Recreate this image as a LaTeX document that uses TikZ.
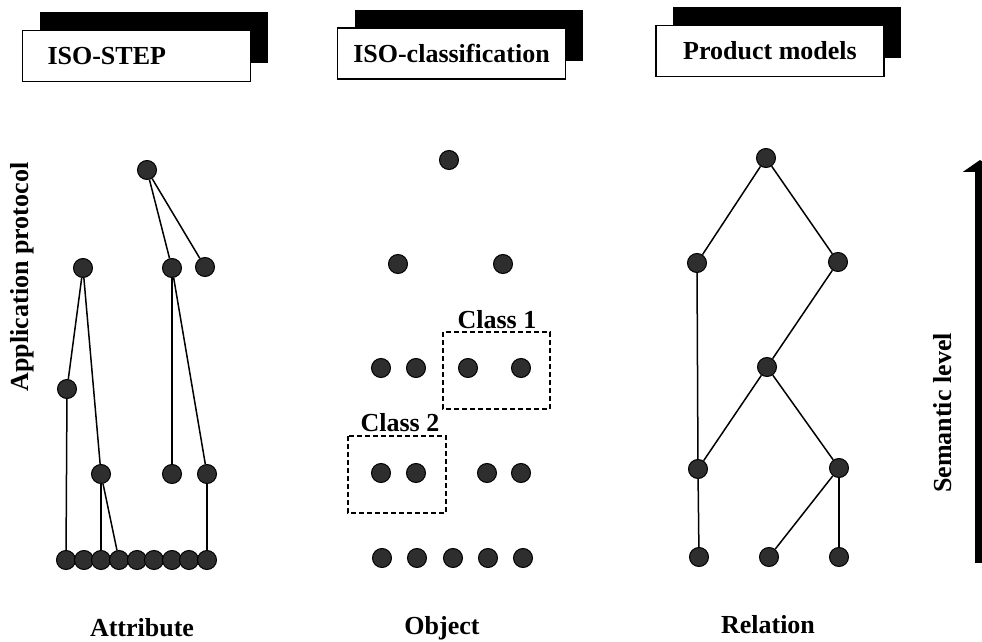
\documentclass[tikz,border=0pt]{standalone}
\usepackage{fontspec}
\setmainfont{Liberation Serif}
\usetikzlibrary{arrows.meta,shadows}

\begin{document}
\begin{tikzpicture}[x=0.5pt,y=-0.5pt,
  font=\fontsize{13}{15}\selectfont\bfseries,
  dot/.style={circle,draw=black,fill=black!82,line width=0.5pt,inner sep=0pt,minimum size=9.5pt},
  titlebox/.style={draw,fill=white,line width=0.6pt,minimum width=114pt,minimum height=25.5pt,
    general shadow={fill=black,shadow xshift=8.5pt,shadow yshift=9pt}},
  classbox/.style={draw,line width=0.6pt,dash pattern=on 2.5pt off 1.5pt},
  link/.style={line width=0.75pt},
  semarrow/.style={line width=5.5pt,-{Triangle[width=17pt,length=6pt]}}]
\useasboundingbox (0,0) rectangle (982,642);
% headers
\node[titlebox,text width=89pt,inner xsep=12.5pt,align=left] (step) at (136.5,56) {ISO-STEP};
\node[titlebox] (iso) at (451.5,53.5) {ISO-classification};
\node[titlebox] (prod) at (770,51) {Product models};
% attribute tree
\node[dot] (aTop) at (147,170) {};
\node[dot] (a21) at (83,268) {};
\node[dot] (a22) at (172,268) {};
\node[dot] (a23) at (205,267) {};
\node[dot] (a31) at (67,389) {};
\node[dot] (a41) at (101,474) {};
\node[dot] (a42) at (172,474) {};
\node[dot] (a43) at (207,474) {};
\node[dot] (b1) at (66,560) {};
\node[dot] (b2) at (84,560) {};
\node[dot] (b3) at (101,560) {};
\node[dot] (b4) at (119,560) {};
\node[dot] (b5) at (137,560) {};
\node[dot] (b6) at (154,560) {};
\node[dot] (b7) at (172,560) {};
\node[dot] (b8) at (189,560) {};
\node[dot] (b9) at (207,560) {};
\draw[link] (aTop) -- (a22);
\draw[link] (aTop) -- (a23);
\draw[link] (a21) -- (a31);
\draw[link] (a21) -- (a41);
\draw[link] (a31) -- (b1);
\draw[link] (a41) -- (b3);
\draw[link] (a41) -- (b4);
\draw[link] (a22) -- (a42);
\draw[link] (a22) -- (a43);
\draw[link] (a43) -- (b9);
% object dots
\node[dot] (mTop) at (449,160) {};
\node[dot] (m21) at (398,264) {};
\node[dot] (m22) at (503,264) {};
\node[dot] (m31) at (381,368) {};
\node[dot] (m32) at (416,368) {};
\node[dot] (m33) at (468,368) {};
\node[dot] (m34) at (521,368) {};
\node[dot] (m41) at (381,473) {};
\node[dot] (m42) at (416,473) {};
\node[dot] (m43) at (487,473) {};
\node[dot] (m44) at (521,473) {};
\node[dot] (m51) at (382,558) {};
\node[dot] (m52) at (417,558) {};
\node[dot] (m53) at (453,558) {};
\node[dot] (m54) at (488,558) {};
\node[dot] (m55) at (523,558) {};
\draw[classbox] (443,332) rectangle (550,409);
\draw[classbox] (348,436) rectangle (446,513);
\node (cls1) at (497,320) {Class 1};
\node (cls2) at (400,423) {Class 2};
% relation tree
\node[dot] (rTop) at (766,158) {};
\node[dot] (r21) at (697,263) {};
\node[dot] (r22) at (838,262) {};
\node[dot] (r31) at (767,367) {};
\node[dot] (r41) at (698,469) {};
\node[dot] (r42) at (839,468) {};
\node[dot] (r51) at (699,557) {};
\node[dot] (r52) at (769,557) {};
\node[dot] (r53) at (839,557) {};
\draw[link] (rTop) -- (r21);
\draw[link] (rTop) -- (r22);
\draw[link] (r21) -- (r41);
\draw[link] (r22) -- (r31);
\draw[link] (r31) -- (r41);
\draw[link] (r31) -- (r42);
\draw[link] (r41) -- (r51);
\draw[link] (r42) -- (r52);
\draw[link] (r42) -- (r53);
% captions
\node (attr) at (142,628) {Attribute};
\node (obj) at (442,628) {Object};
\node (rel) at (768,625) {Relation};
\node[rotate=90] (appl) at (22,277) {Application protocol};
\node[rotate=90] (sem) at (943,413) {Semantic level};
\coordinate (semlo) at (980,563);
\coordinate (semhi) at (980,160);
\draw[semarrow] (semlo) -- (semhi);
\end{tikzpicture}
\end{document}
